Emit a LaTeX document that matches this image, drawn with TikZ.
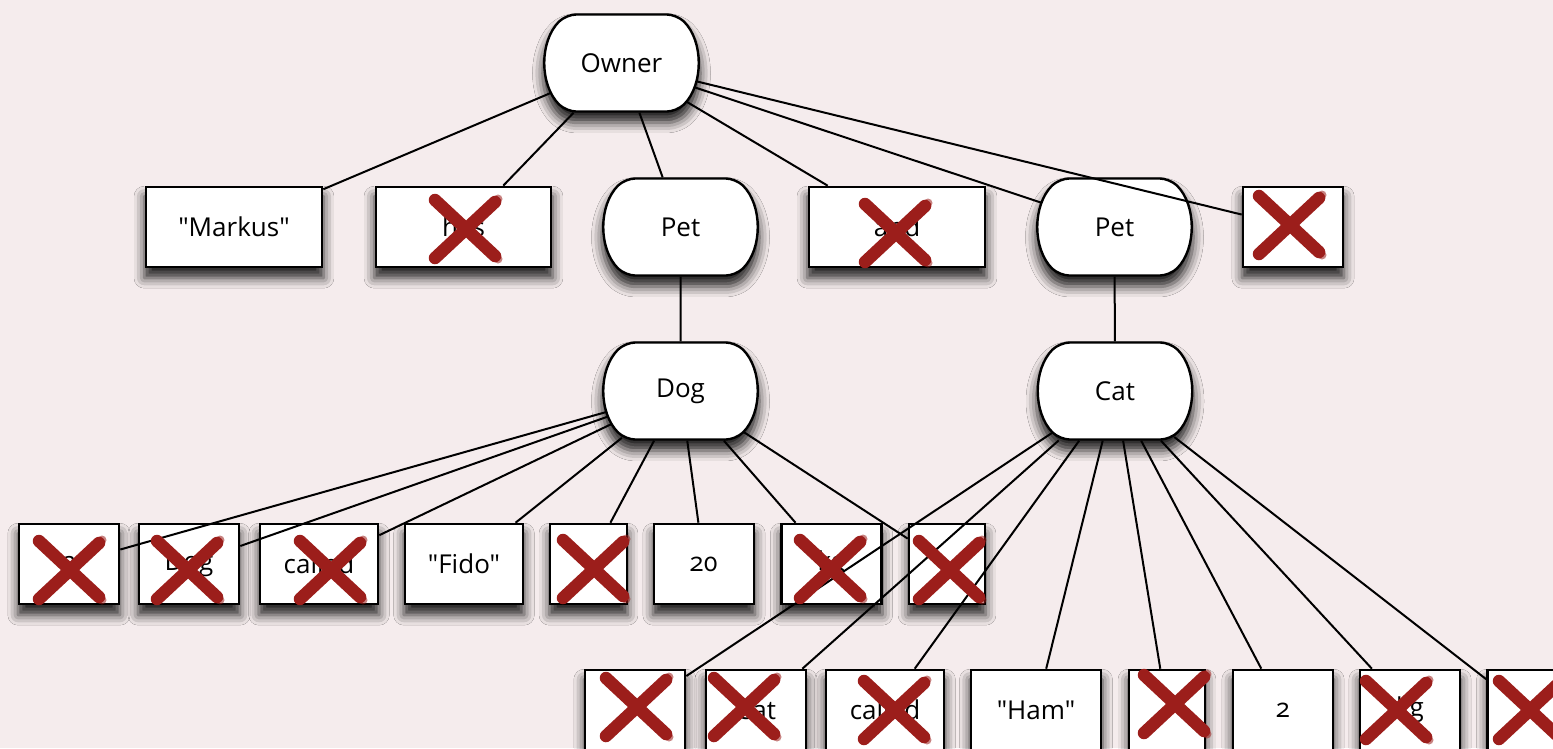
\documentclass[tikz,border=0pt]{standalone}
\usepackage{fontspec}
\setmainfont[Numbers=OldStyle, Ligatures=TeXOff]{Open Sans}
\usetikzlibrary{shapes.misc,shadows.blur}
\definecolor{paper}{RGB}{245,236,237}
\definecolor{strike}{RGB}{156,30,27}

\tikzset{
  every node/.style={font=\fontsize{26}{30}\selectfont},
  lifted/.style={blur shadow={shadow xshift=0pt, shadow yshift=-10pt,
      shadow blur radius=10pt, shadow opacity=85, shadow scale=1.02}},
  word/.style={rectangle, draw, line width=2.6pt, fill=white, lifted,
      minimum height=80pt, inner sep=0pt},
  concept/.style={rounded rectangle, rounded rectangle arc length=90,
      rounded corners=10pt, draw, line width=2.4pt, fill=white, lifted,
      minimum width=151pt, minimum height=97pt, inner sep=0pt},
  link/.style={line width=2pt},
  brush/.style={draw=strike, line width=12.5pt, line cap=round},
  feather/.style={draw=strike, line width=9pt, line cap=round, opacity=0.55},
  cross/.pic={
    \draw[brush] (-31,-29) -- (29,27);
    \draw[feather] (27,25) -- (32,30);
    \draw[brush] (-31,29) -- (29,-27);
    \draw[feather] (27,-25) -- (32,-30);
  }
}

\begin{document}
\begin{tikzpicture}[x=1pt, y=-1pt]
  \fill[paper] (0,0) rectangle (1553,748);
  \useasboundingbox (0,0) rectangle (1553,748);

  % root
  \node[concept] (owner) at (621.5,63) {Owner};

  % first level
  \node[word, minimum width=176pt] (markus) at (234,227) {"Markus"};
  \node[word, minimum width=175pt] (has) at (463.5,227) {has};
  \node[concept] (pet1) at (680.5,227) {Pet};
  \node[word, minimum width=176pt] (and) at (897,227) {and};
  \node[concept] (pet2) at (1114.5,227) {Pet};
  \node[word, minimum width=100pt] (stop1) at (1293,227) {.};

  % second level
  \node[concept] (dog) at (680.5,391) {Dog};
  \node[concept] (cat) at (1115,391) {Cat};

  % dog phrase
  \node[word, minimum width=100pt] (d1) at (69,564) {a};
  \node[word, minimum width=100pt] (d2) at (189,564) {Dog};
  \node[word, minimum width=118pt] (d3) at (319,564) {called};
  \node[word, minimum width=118pt] (d4) at (464,564) {"Fido"};
  \node[word, minimum width=77pt] (d5) at (588.5,564) {,};
  \node[word, minimum width=100pt] (d6) at (704,564) {20};
  \node[word, minimum width=100pt] (d7) at (831.5,564) {kg};
  \node[word, minimum width=76pt] (d8) at (947,564) {,};

  % cat phrase
  \node[word, minimum width=100pt] (c1) at (635,710) {a};
  \node[word, minimum width=100pt] (c2) at (756,710) {Cat};
  \node[word, minimum width=118pt] (c3) at (885,710) {called};
  \node[word, minimum width=130pt] (c4) at (1036,710) {"Ham"};
  \node[word, minimum width=76pt] (c5) at (1167,710) {,};
  \node[word, minimum width=100pt] (c6) at (1283,710) {2};
  \node[word, minimum width=100pt] (c7) at (1410,710) {kg};
  \node[word, minimum width=77pt] (c8) at (1526,710) {.};

  % connectors
  \foreach \t in {markus,has,pet1,and,pet2,stop1}
    \draw[link] (owner) -- (\t);
  \draw[link] (pet1) -- (dog);
  \draw[link] (pet2) -- (cat);
  \foreach \t in {d1,d2,d3,d4,d5,d6,d7,d8}
    \draw[link] (dog) -- (\t);
  \foreach \t in {c1,c2,c3,c4,c5,c6,c7,c8}
    \draw[link] (cat) -- (\t);

  % struck-out words
  \foreach \p in {(466,229),(896,233),(1290,225),
                  (70,570),(188,570),(331,570),(594,569),(831,569),(950,570),
                  (637,707),(745,707),(895,710),(1175,704),(1397,710),(1530,710)}
    \pic at \p {cross};
\end{tikzpicture}
\end{document}
